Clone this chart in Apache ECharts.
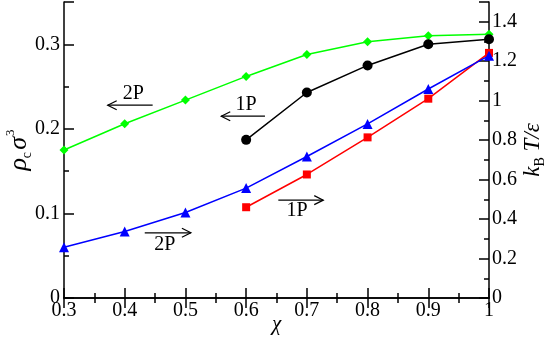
<!DOCTYPE html>
<html>
<head>
<meta charset="utf-8">
<script src="https://cdn.jsdelivr.net/npm/echarts@6/dist/echarts.min.js"></script>
<style>
  html, body { margin: 0; padding: 0; background: #fff; }
  #chart { width: 545px; height: 339px; }
</style>
</head>
<body>
<div id="chart"></div>
<script>
// chi values
var chiAll = [0.3, 0.4, 0.5, 0.6, 0.7, 0.8, 0.9, 1.0]
var chiOneP = [0.6, 0.7, 0.8, 0.9, 1.0]

// critical density rho_c sigma^3 (left axis)
var rhoTwoP = [0.175, 0.206, 0.234, 0.262, 0.288, 0.303, 0.310, 0.312]
var rhoOneP = [0.187, 0.243, 0.275, 0.300, 0.306]

// critical temperature kB T / eps (right axis)
var tempTwoP = [0.257, 0.337, 0.433, 0.557, 0.717, 0.882, 1.059, 1.228]
var tempOneP = [0.460, 0.626, 0.814, 1.010, 1.242]

// arrow annotations, in left-axis data coords: [text, xFrom, xTo, yArrow, xText, yText]
var notes = [
    ['2P', 0.446, 0.372, 0.228, 0.414, 0.241],
    ['1P', 0.631, 0.559, 0.215, 0.600, 0.229],
    ['2P', 0.433, 0.509, 0.0771, 0.466, 0.0626],
    ['1P', 0.653, 0.727, 0.1157, 0.684, 0.1028]
]

var font = '"Liberation Serif", "Times New Roman", "DejaVu Serif", serif'

function pairs(xs, ys) {
    return xs.map(function (x, i) { return [x, ys[i]] })
}

var frameLine = { show: true, lineStyle: { color: '#000', width: 1.5 } }
var tick = { show: true, inside: true, length: 10, lineStyle: { color: '#000', width: 1.5 } }
var minor = { show: true, splitNumber: 2, length: 5, lineStyle: { color: '#000', width: 1.5 } }
var label = { color: '#000', fontFamily: font, fontSize: 20 }

var chart = echarts.init(document.getElementById('chart'))

var option = {
    animation: false,
    backgroundColor: '#fff',
    grid: { left: 64, right: 56, top: 2, bottom: 41, containLabel: false, outerBoundsMode: 'none' },
    xAxis: [
        {
            type: 'value', position: 'bottom', min: 0.3, max: 1.0, interval: 0.1,
            axisLine: frameLine, axisTick: tick, minorTick: minor,
            splitLine: { show: false },
            axisLabel: Object.assign({ margin: 3 }, label),
            name: 'χ', nameLocation: 'middle', nameGap: 16, nameMoveOverlap: false,
            nameTextStyle: { fontFamily: font, fontStyle: 'italic', fontSize: 21, color: '#000' }
        },
        {
            type: 'value', position: 'top', min: 0.3, max: 1.0, interval: 0.1,
            axisLine: frameLine, axisTick: tick, minorTick: minor,
            splitLine: { show: false }, axisLabel: { show: false }
        }
    ],
    yAxis: [
        {
            type: 'value', position: 'left', min: 0, max: 0.35, interval: 0.1,
            axisLine: frameLine, axisTick: tick, minorTick: minor,
            splitLine: { show: false },
            axisLabel: Object.assign({ margin: 4, showMaxLabel: false }, label),
            name: '{r|ρ}{s|c}{g| }{r|σ}{p|3}', nameLocation: 'middle', nameRotate: 90,
            nameGap: 30, nameMoveOverlap: false,
            nameTextStyle: {
                color: '#000',
                rich: {
                    r: { fontFamily: font, fontStyle: 'italic', fontSize: 26, color: '#000', lineHeight: 30 },
                    s: { fontFamily: font, fontSize: 14, color: '#000', verticalAlign: 'bottom', padding: [8, 0, 0, 0] },
                    g: { fontSize: 8 },
                    p: { fontFamily: font, fontSize: 13, color: '#000', verticalAlign: 'top', padding: [0, 0, 10, 1] }
                }
            }
        },
        {
            type: 'value', position: 'right', min: 0, max: 1.5, interval: 0.2,
            axisLine: frameLine, axisTick: tick, minorTick: minor,
            splitLine: { show: false },
            axisLabel: Object.assign({ margin: 3, showMaxLabel: false }, label),
            name: '{r|k}{s|B}{r| T/ε}', nameLocation: 'middle', nameRotate: 90,
            nameGap: 30, nameMoveOverlap: false,
            nameTextStyle: {
                color: '#000',
                rich: {
                    r: { fontFamily: font, fontStyle: 'italic', fontSize: 23, color: '#000', lineHeight: 28 },
                    s: { fontFamily: font, fontSize: 14, color: '#000', verticalAlign: 'bottom', padding: [6, 0, 0, 0] }
                }
            }
        }
    ],
    series: [
        {
            name: '2P rho', type: 'line', xAxisIndex: 0, yAxisIndex: 0,
            data: pairs(chiAll, rhoTwoP),
            symbol: 'diamond', symbolSize: 9,
            itemStyle: { color: '#00ff00' }, lineStyle: { color: '#00ff00', width: 1.5 }
        },
        {
            name: '1P rho', type: 'line', xAxisIndex: 0, yAxisIndex: 0,
            data: pairs(chiOneP, rhoOneP),
            symbol: 'circle', symbolSize: 10,
            itemStyle: { color: '#000' }, lineStyle: { color: '#000', width: 1.5 }
        },
        {
            name: '1P T', type: 'line', xAxisIndex: 0, yAxisIndex: 1,
            data: pairs(chiOneP, tempOneP),
            symbol: 'rect', symbolSize: 8,
            itemStyle: { color: '#ff0000' }, lineStyle: { color: '#ff0000', width: 1.5 }
        },
        {
            name: '2P T', type: 'line', xAxisIndex: 0, yAxisIndex: 1,
            data: pairs(chiAll, tempTwoP),
            symbol: 'triangle', symbolSize: 10,
            itemStyle: { color: '#0000ff' }, lineStyle: { color: '#0000ff', width: 1.5 }
        }
    ]
}

chart.setOption(option)

// arrows + labels placed through the axes
var graphics = []
notes.forEach(function (n) {
    var a = chart.convertToPixel({ xAxisIndex: 0, yAxisIndex: 0 }, [n[1], n[3]])
    var b = chart.convertToPixel({ xAxisIndex: 0, yAxisIndex: 0 }, [n[2], n[3]])
    var t = chart.convertToPixel({ xAxisIndex: 0, yAxisIndex: 0 }, [n[4], n[5]])
    var dir = b[0] > a[0] ? 1 : -1
    graphics.push({
        type: 'polyline',
        shape: { points: [a, b] },
        style: { stroke: '#000', lineWidth: 1.2, fill: null }
    })
    graphics.push({
        type: 'polyline',
        shape: { points: [[b[0] - dir * 9, b[1] - 4.5], b, [b[0] - dir * 9, b[1] + 4.5]] },
        style: { stroke: '#000', lineWidth: 1.2, fill: null }
    })
    graphics.push({
        type: 'text', x: t[0], y: t[1],
        style: { text: n[0], fontFamily: font, fontSize: 20, fill: '#000', align: 'center', verticalAlign: 'middle' }
    })
})
chart.setOption({ graphic: graphics })
</script>
</body>
</html>
